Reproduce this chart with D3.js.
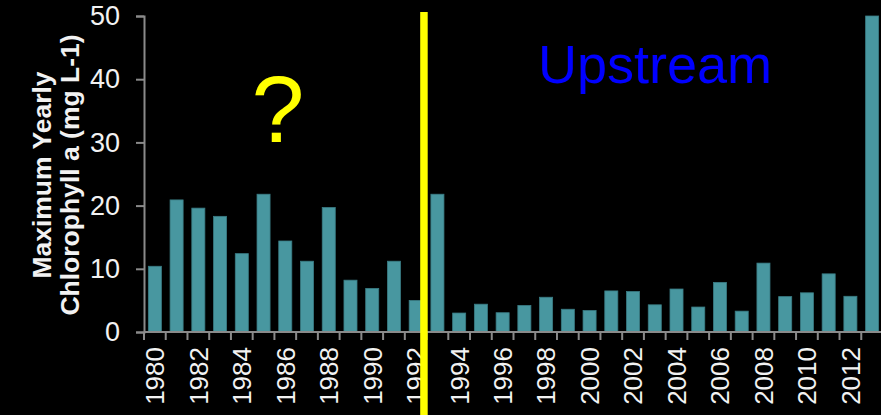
<!DOCTYPE html>
<html>
<head>
<meta charset="utf-8">
<script src="https://cdn.jsdelivr.net/npm/d3@7"></script>
<style>
html,body{margin:0;padding:0;background:#000;}
svg{display:block;}
text{font-family:"Liberation Sans",Arial,sans-serif;}
</style>
</head>
<body>
<svg id="chart" width="881" height="415"></svg>
<script>
const years = d3.range(1980, 2014).map(String);
const chlorophyll = [10.4, 20.9, 19.6, 18.3, 12.4, 21.8, 14.4, 11.2, 19.7, 8.2, 6.9, 11.2, 5.0,
  21.8, 3.0, 4.4, 3.05, 4.2, 5.5, 3.6, 3.4, 6.5, 6.4, 4.3, 6.8, 3.95, 7.85, 3.3, 10.9, 5.6, 6.2, 9.2, 5.65, 50];
const yTicks = [0, 10, 20, 30, 40, 50];
const xTickLabels = years.filter((d, i) => i % 2 === 0);
const titleLines = ["Maximum Yearly", "Chlorophyll a (mg L-1)"];
const annotations = [{text: "?", color: "#ffff00"}, {text: "Upstream", color: "#0000ff"}];
const splitYear = "1993";

(function () {
const svg = d3.select("#chart");
const mLeft = 144, mRight = 883, mTop = 16, mBottom = 332;
const x = d3.scaleBand().domain(years).range([mLeft, mRight]).paddingInner(0).paddingOuter(0);
const y = d3.scaleLinear().domain([0, 50]).range([mBottom, mTop]);
const bw = x.bandwidth();
const axisColor = "#8a8a8a";
const textColor = "#f2f2f2";

// bars
svg.append("g").selectAll("rect").data(years).join("rect")
  .attr("x", d => x(d) + bw * 0.2)
  .attr("width", bw * 0.6)
  .attr("y", (d, i) => y(chlorophyll[i]))
  .attr("height", (d, i) => y(0) - y(chlorophyll[i]))
  .attr("fill", "#4897a0")
  .attr("stroke", "#3a7c84")
  .attr("stroke-width", 0.8);

// y axis
const yAxis = svg.append("g").attr("transform", `translate(${mLeft},0)`)
  .call(d3.axisLeft(y).tickValues(yTicks).tickSize(8).tickPadding(16));
yAxis.select(".domain").attr("stroke", axisColor).attr("stroke-width", 2);
yAxis.selectAll(".tick line").attr("stroke", axisColor).attr("stroke-width", 2);
yAxis.selectAll(".tick text").attr("fill", textColor).attr("font-size", 27)
  .attr("font-family", "'Liberation Sans',Arial,sans-serif");

// x axis: line + ticks at band boundaries
const xAxisG = svg.append("g");
xAxisG.append("line").attr("x1", mLeft).attr("x2", mRight).attr("y1", mBottom).attr("y2", mBottom)
  .attr("stroke", axisColor).attr("stroke-width", 2);
xAxisG.selectAll("line.tk").data(years).join("line").attr("class", "tk")
  .attr("x1", d => x(d)).attr("x2", d => x(d))
  .attr("y1", mBottom).attr("y2", mBottom + 8)
  .attr("stroke", axisColor).attr("stroke-width", 2);
xAxisG.selectAll("text").data(xTickLabels).join("text")
  .attr("transform", d => `translate(${x(d) + bw / 2},${mBottom + 15}) rotate(-90)`)
  .attr("text-anchor", "end")
  .attr("dy", "0.36em")
  .attr("fill", textColor)
  .attr("font-size", 26)
  .text(d => d);

// y title
const title = svg.append("text")
  .attr("transform", `translate(0,${(mTop + mBottom) / 2 + 1}) rotate(-90)`)
  .attr("text-anchor", "middle")
  .attr("font-weight", "bold")
  .attr("font-size", 26.5)
  .attr("fill", textColor);
title.selectAll("tspan").data(titleLines).join("tspan")
  .attr("x", 0)
  .attr("y", (d, i) => 51 + i * 28)
  .text(d => d);

// split line
svg.append("rect")
  .attr("x", x(splitYear) - bw * 0.12 - 3.75)
  .attr("y", 12)
  .attr("width", 7.5)
  .attr("height", 415 - 12)
  .attr("fill", "#ffff00");

// annotations
svg.append("text").attr("x", 278).attr("y", 142)
  .attr("text-anchor", "middle").attr("font-size", 95)
  .attr("fill", annotations[0].color).text(annotations[0].text);
svg.append("text").attr("x", 538).attr("y", 83)
  .attr("font-size", 54)
  .attr("fill", annotations[1].color).text(annotations[1].text);
})();
</script>
</body>
</html>
